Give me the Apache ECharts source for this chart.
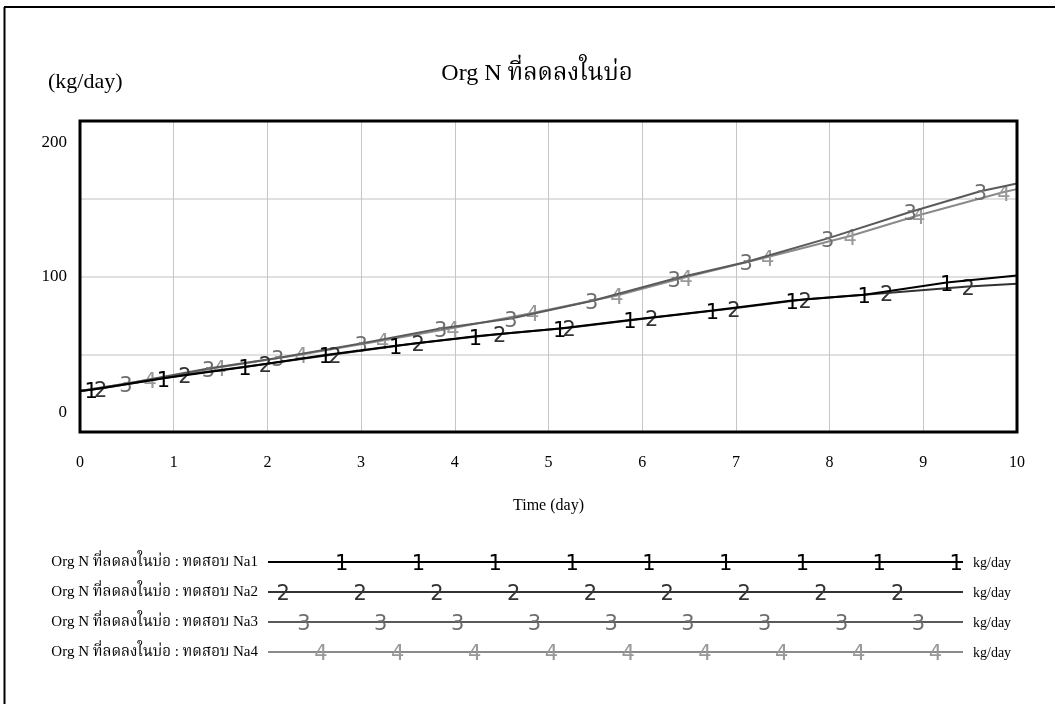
<!DOCTYPE html>
<html>
<head>
<meta charset="utf-8">
<script src="https://cdn.jsdelivr.net/npm/echarts@6/dist/echarts.min.js"></script>
<style>
html,body{margin:0;padding:0;background:#fff;}
#chart{width:1055px;height:704px;}
</style>
</head>
<body>
<div id="chart"></div>
<script>
// ---- data ----
const titleText = 'Org N ที่ลดลงในบ่อ';
const unitText = '(kg/day)';
const xName = 'Time (day)';
const xTicks = [0, 1, 2, 3, 4, 5, 6, 7, 8, 9, 10];
const yTickLabels = [0, 100, 200];
const seriesNames = [
  'Org N ที่ลดลงในบ่อ : ทดสอบ Na1',
  'Org N ที่ลดลงในบ่อ : ทดสอบ Na2',
  'Org N ที่ลดลงในบ่อ : ทดสอบ Na3',
  'Org N ที่ลดลงในบ่อ : ทดสอบ Na4'
];
const markerDigits = ['1', '2', '3', '4'];

const s1T = [0, 0.12, 0.89, 1.76, 2.62, 3.37, 4.22, 5.12, 5.87, 6.75, 7.60, 8.37, 9.25, 10];
const s1V = [26.3, 27.2, 34.5, 41.8, 49.5, 55.5, 61.5, 66.5, 72.0, 78.2, 84.6, 88.3, 96.2, 100.7];

const s2T = [0, 0.22, 1.12, 1.98, 2.72, 3.61, 4.48, 5.22, 6.10, 6.98, 7.74, 8.61, 9.48, 10];
const s2V = [26.3, 28.0, 36.8, 43.8, 50.0, 57.3, 63.0, 67.0, 73.5, 79.5, 85.4, 89.4, 93.6, 95.3];

const s3T = [0, 0.49, 1.37, 2.11, 3.00, 3.85, 4.60, 5.46, 6.34, 7.11, 7.98, 8.86, 9.61, 10];
const s3V = [26.3, 31.0, 40.8, 47.6, 57.0, 66.5, 73.0, 84.3, 98.5, 109.3, 124.5, 141.5, 154.8, 159.8];

const s4T = [0, 0.75, 1.49, 2.36, 3.23, 3.98, 4.83, 5.73, 6.47, 7.34, 8.22, 8.95, 9.86, 10];
const s4V = [26.3, 33.6, 41.6, 49.8, 58.8, 66.8, 76.5, 87.8, 99.6, 112.5, 126.0, 139.4, 154.3, 156.2];

const allT = [s1T, s2T, s3T, s4T];
const allV = [s1V, s2V, s3V, s4V];

// ---- styling ----
const serif = "'Liberation Serif', 'Noto Serif Thai', 'Noto Sans Thai', 'DejaVu Serif', serif";
const sans = "'DejaVu Sans', Verdana, sans-serif";
const lineColors = ['#000000', '#333333', '#5a5a5a', '#8a8a8a'];
const digitColors = ['#000000', '#333333', '#6e6e6e', '#999999'];
const digitSize = 21;

const chart = echarts.init(document.getElementById('chart'), null, {renderer: 'canvas'});

const series = allT.map((ts, si) => ({
  name: seriesNames[si],
  type: 'line',
  z: 10 - si,
  symbol: 'circle',
  symbolSize: 0.01,
  showSymbol: true,
  showAllSymbol: true,
  animation: false,
  itemStyle: {color: 'rgba(0,0,0,0)'},
  lineStyle: {color: lineColors[si], width: 2},
  label: {
    show: false,
    position: 'inside',
    offset: [0, 3],
    formatter: markerDigits[si],
    fontFamily: sans,
    fontSize: digitSize,
    color: digitColors[si]
  },
  data: ts.map((t, i) => {
    const isMarker = i > 0 && i < ts.length - 1;
    return isMarker ? {value: [t, allV[si][i]], label: {show: true}} : {value: [t, allV[si][i]]};
  })
}));

// legend drawn as graphic elements (Vensim-style legend rows)
const legendRowY = [562, 592, 622, 652];
const legendLineX0 = 268, legendLineX1 = 963;
const legendMarkStart = [341.7, 283.3, 304, 321];
const legendMarkStep = 76.8;
const graphics = [];
// outer frame (left and top edges)
graphics.push({type: 'line', shape: {x1: 4.5, y1: 7, x2: 4.5, y2: 704}, style: {stroke: '#000', lineWidth: 2}, silent: true});
graphics.push({type: 'line', shape: {x1: 4, y1: 7, x2: 1055, y2: 7}, style: {stroke: '#000', lineWidth: 2}, silent: true});
seriesNames.forEach((nm, si) => {
  const y = legendRowY[si];
  graphics.push({type: 'text', x: 258, y: y, style: {text: nm, font: '15px ' + serif, fill: '#000', textAlign: 'right', textVerticalAlign: 'middle'}});
  graphics.push({type: 'line', shape: {x1: legendLineX0, y1: y, x2: legendLineX1, y2: y}, style: {stroke: lineColors[si], lineWidth: 2}});
  for (let k = 0; k < 9; k++) {
    graphics.push({type: 'text', x: legendMarkStart[si] + k * legendMarkStep, y: y + 3, style: {text: markerDigits[si], font: digitSize + 'px ' + sans, fill: digitColors[si], textAlign: 'center', textVerticalAlign: 'middle'}});
  }
  graphics.push({type: 'text', x: 973, y: y + 1, style: {text: 'kg/day', font: '14px ' + serif, fill: '#000', textAlign: 'left', textVerticalAlign: 'middle'}});
});

const option = {
  backgroundColor: '#ffffff',
  animation: false,
  title: [
    {text: titleText, left: 532, top: 57, textAlign: 'center',
     textStyle: {fontFamily: serif, fontSize: 24, fontWeight: 'normal', color: '#000'}},
    {text: unitText, left: 43, top: 66,
     textStyle: {fontFamily: serif, fontSize: 22, fontWeight: 'normal', color: '#000'}}
  ],
  grid: {left: 80, right: 38, top: 121, bottom: 272, show: true, borderColor: '#000', borderWidth: 3, backgroundColor: 'transparent', z: 20},
  xAxis: {
    type: 'value', min: 0, max: 10, interval: 1,
    name: xName, nameLocation: 'middle', nameGap: 66,
    nameTextStyle: {fontFamily: serif, fontSize: 16, color: '#000'},
    axisLine: {show: false}, axisTick: {show: false},
    splitLine: {show: true, lineStyle: {color: '#c6c6c6', width: 1}},
    axisLabel: {fontFamily: serif, fontSize: 16, color: '#000', margin: 23,
      formatter: v => xTicks.includes(v) ? String(v) : ''}
  },
  yAxis: {
    type: 'value', min: 0, max: 200, interval: 50,
    axisLine: {show: false}, axisTick: {show: false},
    splitLine: {show: true, lineStyle: {color: '#d6d6d6', width: 1.5}},
    axisLabel: {
      fontFamily: serif, fontSize: 17, color: '#000', margin: 13,
      formatter: v => {
        if (!yTickLabels.includes(v)) return '';
        if (v === 200) return '{t|' + v + '}';
        if (v === 0) return '{b|' + v + '}';
        return '{m|' + v + '}';
      },
      rich: {
        t: {fontFamily: serif, fontSize: 17, color: '#000', padding: [44, 0, 0, 0]},
        m: {fontFamily: serif, fontSize: 17, color: '#000'},
        b: {fontFamily: serif, fontSize: 17, color: '#000', padding: [0, 0, 38, 0]}
      }
    }
  },
  graphic: graphics,
  series: series
};
chart.setOption(option);
</script>
</body>
</html>
